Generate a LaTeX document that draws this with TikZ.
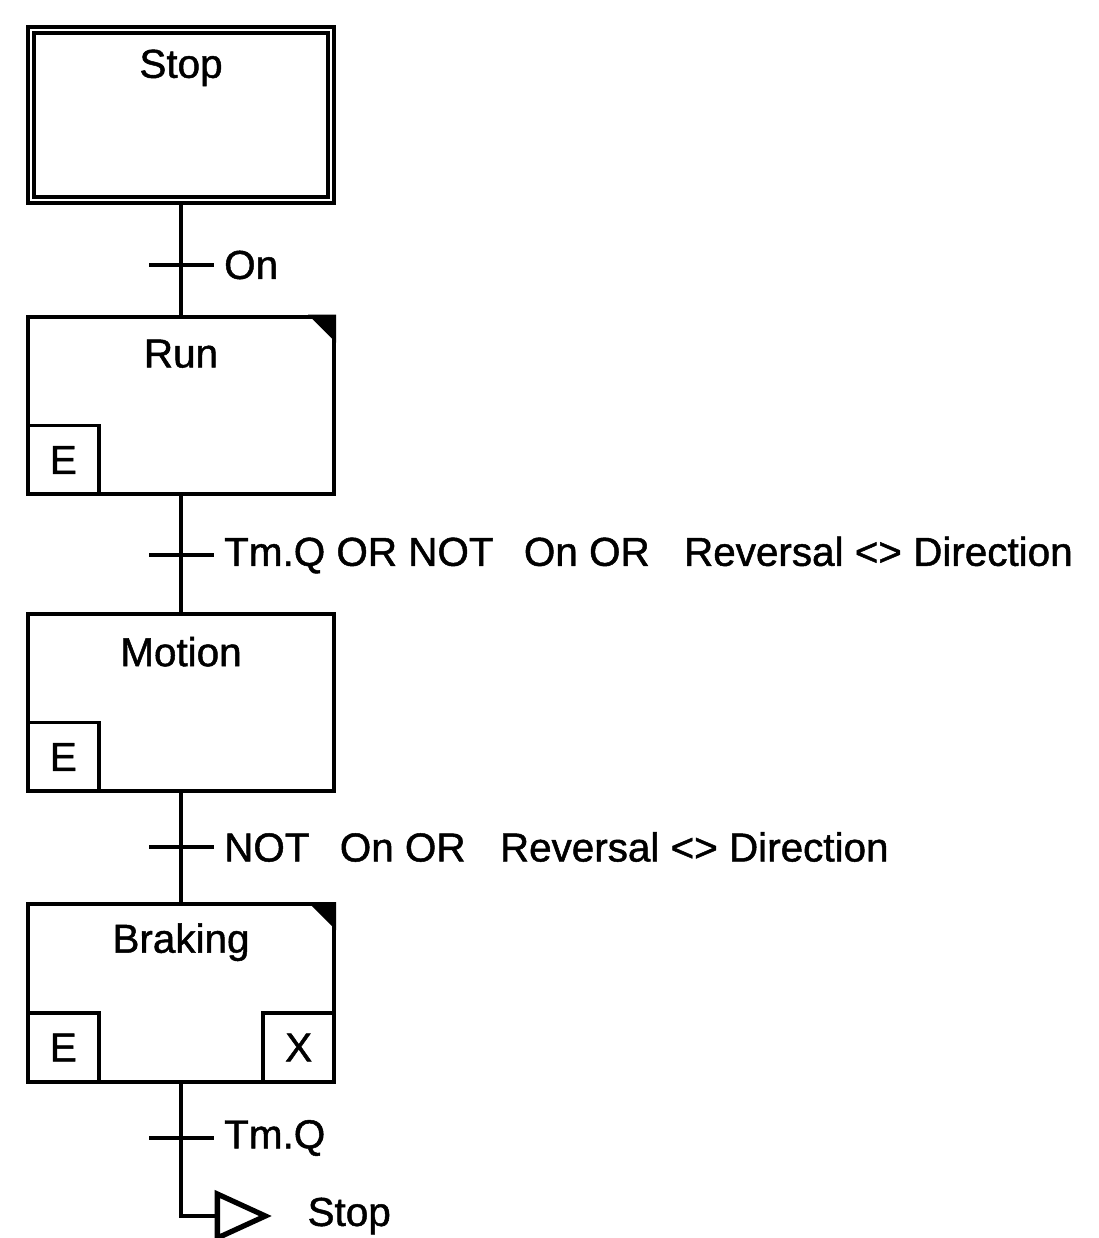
\documentclass[tikz,border=0pt]{standalone}
\usepackage{fontspec}
\setmainfont{Liberation Sans}[FakeBold=1.2]
\usepackage{tikz}
\usetikzlibrary{arrows.meta, positioning, calc, shapes.geometric}
\tikzset{
  stepbox/.style={draw, minimum width=6.12cm, minimum height=3.55cm, line width=2.3pt},
  initstep/.style={draw, minimum width=6.0cm, minimum height=3.4cm, line width=2.4pt, double=white, double distance=1.3pt},
  actbox/.style={draw, line width=2.1pt, minimum width=1.42cm, minimum height=1.38cm, inner sep=0pt},
  trans/.style={fill=black, minimum width=1.3cm, minimum height=2.4pt, inner sep=0pt},
  trlabel/.style={right=0.2cm of #1, inner sep=0pt, anchor=west},
  flow/.style={line width=2.3pt},
  jumptri/.style={draw, isosceles triangle, isosceles triangle stretches, minimum height=0.96cm, minimum width=0.88cm, inner sep=0pt, line width=3pt}
}
\newcommand{\corner}[1]{%
  \fill ($(#1.north east)+(-0.56,0)$) -- (#1.north east) -- ++(0,-0.56) -- cycle;
}
\newcommand{\gap}[1]{\hspace{#1em}}
\begin{document}
\begin{tikzpicture}[font=\fontsize{23}{27}\selectfont]
        \useasboundingbox (0,0) rectangle (21.96,-24.76);

        % Steps
        \node[initstep] (stop)    at (3.62,-2.30) {};
        \node[stepbox]  (run)     at (3.62,-8.11) {};
        \node[stepbox]  (motion)  at (3.62,-14.05) {};
        \node[stepbox]  (braking) at (3.62,-19.86) {};

        \node (stoptxt)    at ($(stop.north)+(0,-0.8)$)    {Stop};
        \node (runtxt)     at ($(run.north)+(0,-0.78)$)     {Run};
        \node (motiontxt)  at ($(motion.north)+(0,-0.8)$)  {Motion};
        \node (brakingtxt) at ($(braking.north)+(0,-0.8)$) {Braking};

        % Actions
        \node[actbox, anchor=south west] (runE)     at (run.south west)     {E};
        \node[actbox, anchor=south west] (motionE)  at (motion.south west)  {E};
        \node[actbox, anchor=south west] (brakingE) at (braking.south west) {E};
        \node[actbox, anchor=south east] (brakingX) at (braking.south east) {X};

        \corner{run}
        \corner{braking}

        % Transitions
        \node[trans] (t1) at (3.62,-5.30) {};
        \node[trans] (t2) at (3.62,-11.10) {};
        \node[trans] (t3) at (3.62,-16.94) {};
        \node[trans] (t4) at (3.62,-22.76) {};

        \node[trlabel=t1] (c1) {On};
        \node[trlabel=t2] (c2) {Tm.Q OR NOT\gap{0.75}On OR\gap{0.85}Reversal <> Direction};
        \node[trlabel=t3] (c3) {NOT\gap{0.75}On OR\gap{0.85}Reversal <> Direction};
        \node[trlabel=t4] (c4) {Tm.Q};

        % Jump
        \node[jumptri] (jump) at (4.63,-24.32) {};
        \node[right=0.7cm of jump.east, anchor=west, inner sep=0pt] (jumptxt) {Stop};

        % Links
        \draw[flow] (stop) -- (t1) -- (run);
        \draw[flow] (run) -- (t2) -- (motion);
        \draw[flow] (motion) -- (t3) -- (braking);
        \draw[flow] (braking) -- (t4) |- (jump.west);
    \end{tikzpicture}
\end{document}
